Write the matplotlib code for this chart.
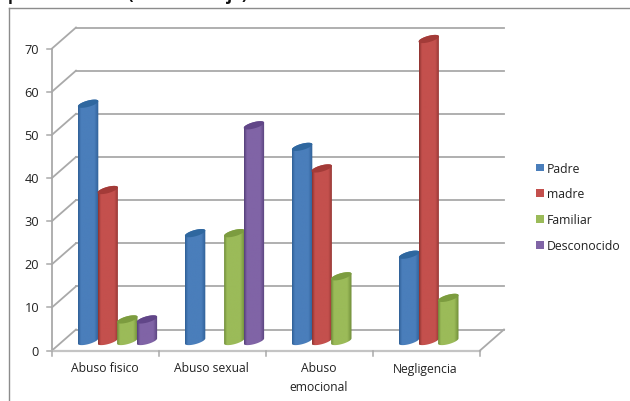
import matplotlib
matplotlib.use("Agg")
import matplotlib.pyplot as plt
import numpy as np
from matplotlib.colors import LinearSegmentedColormap
from matplotlib.patches import Polygon, Rectangle

categories = ["Abuso fisico", "Abuso sexual", "Abuso\nemocional", "Negligencia"]
series_names = ["Padre", "madre", "Familiar", "Desconocido"]
padre = [55, 25, 45, 20]
madre = [35, 0, 40, 70]
familiar = [5, 25, 15, 10]
desconocido = [5, 50, 0, 0]
y_ticks = [0, 10, 20, 30, 40, 50, 60, 70]

W, H = 630, 401
# plot front plane in pixels
LEFT, RIGHT, BOTTOM, TOP = 52, 480, 350.5, 48.5
DEPTH_X, DEPTH_Y = 24, 21

colors = {
    "Padre": ("#2f5f96", "#4a7ebb", "#2f679f"),
    "madre": ("#8c3330", "#c4504d", "#a33b38"),
    "Familiar": ("#6f8c38", "#9bbb59", "#7c9c3f"),
    "Desconocido": ("#55407a", "#8064a6", "#614688"),
}

plt.rcParams["font.family"] = ["Open Sans", "DejaVu Sans"]

fig = plt.figure(figsize=(W / 100, H / 100), dpi=100, facecolor="white")
ax = fig.add_axes([LEFT / W, 1 - BOTTOM / H, (RIGHT - LEFT) / W, (BOTTOM - TOP) / H])
ax.axis("off")

px_x = (RIGHT - LEFT) / 4
px_y = (BOTTOM - TOP) / 70
dx = DEPTH_X / px_x
dy = DEPTH_Y / px_y

grid_color = "#a9a9a9"
for v in y_ticks:
    if v > 0:
        ax.plot([dx, 4 + dx], [v + dy, v + dy], color=grid_color, lw=1.3, clip_on=False, zorder=1)
    ax.plot([0, dx], [v, v + dy], color=grid_color, lw=1.3, clip_on=False, zorder=1)
    ax.plot([-5 / px_x, 0], [v, v], color=grid_color, lw=1.1, clip_on=False, zorder=1)
    ax.text(-13 / px_x, v, str(v), ha="right", va="center_baseline", fontsize=9.2,
            color="#222222", clip_on=False)

# floor and left wall
ax.plot([0, 0], [0, 70], color=grid_color, lw=1.3, clip_on=False, zorder=1)
ax.plot([dx, 4 + dx], [dy, dy], color=grid_color, lw=1.3, clip_on=False, zorder=1)
ax.plot([0, 4], [0, 0], color="#c4c4c4", lw=1.6, clip_on=False, zorder=1)
ax.plot([4, 4 + dx], [0, dy], color=grid_color, lw=1.3, clip_on=False, zorder=1)
for i in range(5):
    ax.plot([i, i], [0, -5 / px_y], color=grid_color, lw=1.1, clip_on=False, zorder=1)
for i, cat in enumerate(categories):
    ax.text(i + 0.5 - 1 / px_x, -12 / px_y, cat, ha="center", va="top", fontsize=8.7,
            color="#222222", linespacing=1.55, clip_on=False)


def cylinder(center, value, name, order):
    edge, light, top_col = colors[name]
    rx = 10.2 / px_x
    ry = 3.2 / px_y
    tilt = 2.6 / px_y
    base = 2.2
    t = np.linspace(0, 2 * np.pi, 81)
    ex = rx * np.cos(t)
    ey = tilt * np.cos(t) + ry * np.sin(t)
    top = value + base
    # outline: lower half of the base ellipse, then upper half of the top one
    body = np.column_stack([
        np.r_[center + ex[40:], center + ex[:41]],
        np.r_[base + ey[40:], top + ey[:41]],
    ])
    cmap = LinearSegmentedColormap.from_list(
        name, [(0, edge), (0.14, light), (0.78, light), (1, edge)], N=64)
    grad = np.linspace(0, 1, 64).reshape(1, -1)
    im = ax.imshow(grad, cmap=cmap, aspect="auto", interpolation="bilinear", zorder=order,
                   extent=[center - rx, center + rx, base - 3 * ry, top + 3 * ry])
    patch = Polygon(body, closed=True, transform=ax.transData, facecolor="none", edgecolor="none",
                    clip_on=False)
    ax.add_patch(patch)
    im.set_clip_box(fig.bbox)
    im.set_clip_path(patch)
    ax.add_patch(Polygon(np.column_stack([center + ex, top + ey]), closed=True, facecolor=top_col,
                         edgecolor="none", zorder=order + 0.1, clip_on=False))


all_series = [padre, madre, familiar, desconocido]
spacing = 19.6 / px_x
for i in range(len(categories)):
    group_center = i + 0.5 + 12 / px_x
    for j, name in enumerate(series_names):
        value = all_series[j][i]
        if value > 0:
            cylinder(group_center + (j - 1.5) * spacing, value, name, 3 + j)
ax.set_xlim(0, 4)
ax.set_ylim(0, 70)

# chart area edges and the cut off title above them
fig.add_artist(plt.Line2D([8.5 / W, 8.5 / W], [0, 1 - 7.5 / H], color="#8c8c8c", lw=1))
fig.add_artist(plt.Line2D([8.5 / W, 1], [1 - 7.5 / H, 1 - 7.5 / H], color="#8c8c8c", lw=1))
for frag, fx in [("p", 8), ("(", 127), ("j", 227), (")", 242)]:
    fig.text(fx / W, 1 + 0.5 / H, frag, fontsize=12, fontweight="bold", color="#111111",
             ha="left", va="baseline")

# legend
legend_y = [168, 193.5, 219, 245]
for name, ly in zip(series_names, legend_y):
    fig.add_artist(Rectangle((536 / W, 1 - (ly + 3.5) / H), 7.5 / W, 7.5 / H,
                             transform=fig.transFigure,
                             facecolor=colors[name][1], edgecolor="none"))
    fig.text(547 / W, 1 - ly / H, name, ha="left", va="center_baseline", fontsize=8.8,
             color="#222222")

fig.savefig("out.png", dpi=100)
